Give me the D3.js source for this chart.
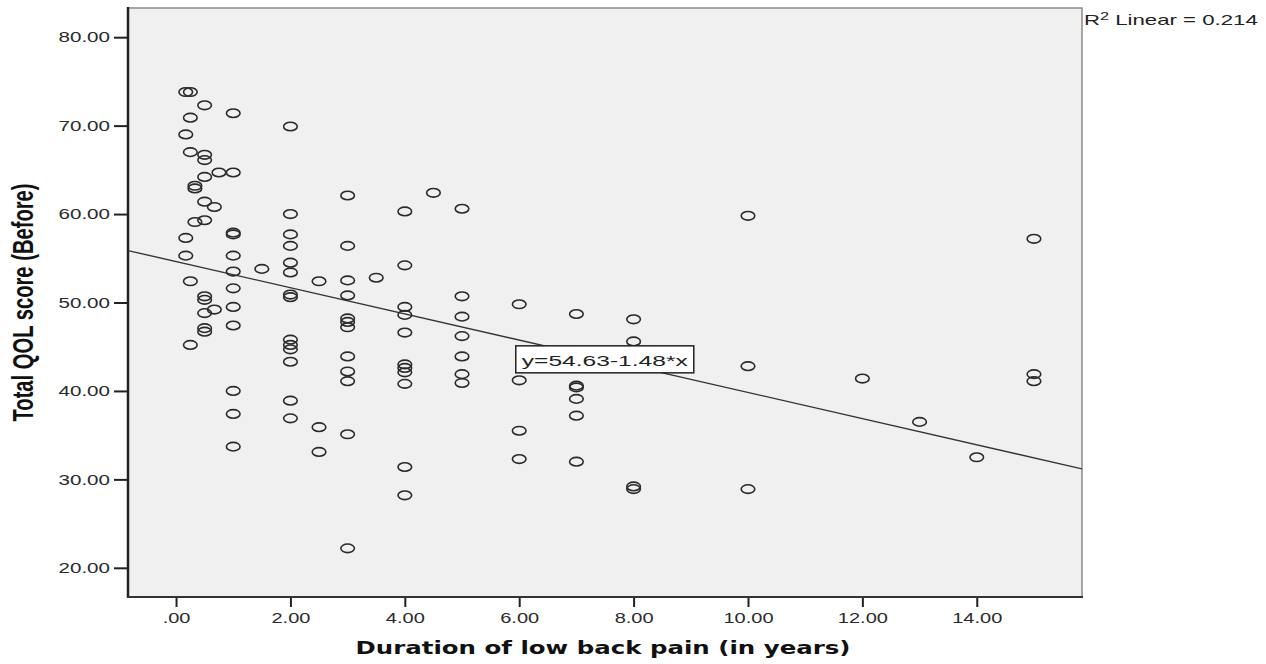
<!DOCTYPE html>
<html>
<head>
<meta charset="utf-8">
<script src="https://cdn.jsdelivr.net/npm/d3@7"></script>
<style>
body { margin: 0; background: #fff; }
svg { display: block; }
.tick text { font-family: 'Liberation Sans', Arial, sans-serif; font-size: 14.5px; fill: #2a2a2a; }
</style>
</head>
<body>
<svg id="chart" width="1266" height="664"></svg>
<script>
// one entry per column of points (years)
const durationYears = [0.17, 0.25, 0.33, 0.5, 0.67, 0.75, 1, 1.5, 2, 2.5, 3, 3.5, 4, 4.5, 5, 6, 7, 8, 10, 12, 13, 14, 15]
// total QOL score (before) of the patients in each column
const qolBefore = [
	[73.8, 69.0, 57.3, 55.3],
	[73.8, 70.9, 67.0, 52.4, 45.2],
	[63.2, 62.9, 59.1],
	[72.3, 66.7, 66.1, 64.2, 61.4, 59.3, 50.7, 50.3, 48.8, 47.1, 46.7],
	[60.8, 49.2],
	[64.7],
	[71.4, 64.7, 57.9, 57.7, 55.3, 53.5, 51.6, 49.5, 47.4, 40.0, 37.4, 33.7],
	[53.8],
	[69.9, 60.0, 57.7, 56.4, 54.5, 53.4, 50.9, 50.6, 45.8, 45.2, 44.7, 43.3, 38.9, 36.9],
	[52.4, 35.9, 33.1],
	[62.1, 56.4, 52.5, 50.8, 48.2, 47.8, 47.2, 43.9, 42.2, 41.1, 35.1, 22.2],
	[52.8],
	[60.3, 54.2, 49.5, 48.6, 46.6, 43.0, 42.6, 42.1, 40.8, 31.4, 28.2],
	[62.4],
	[60.6, 50.7, 48.4, 46.2, 43.9, 41.9, 40.9],
	[49.8, 41.2, 35.5, 32.3],
	[48.7, 40.6, 40.4, 39.1, 37.2, 32.0],
	[48.1, 45.6, 29.2, 28.9],
	[59.8, 42.8, 28.9],
	[41.4],
	[36.5],
	[32.5],
	[57.2, 41.9, 41.1]
]
const xTicks = [0, 2, 4, 6, 8, 10, 12, 14]
const yTicks = [20, 30, 40, 50, 60, 70, 80]
const fitIntercept = 54.63
const fitSlope = -1.48
const rSquared = 0.214

const points = []
durationYears.forEach((d, i) => qolBefore[i].forEach(v => points.push({ x: d, y: v })))

const plot = { left: 128, right: 1082, top: 8, bottom: 597 }
const x = d3.scaleLinear().domain([-0.84, 15.84]).range([plot.left, plot.right])
const y = d3.scaleLinear().domain([16.7, 83.3]).range([plot.bottom, plot.top])

const svg = d3.select('#chart')
const fmt = d => d3.format('.2f')(d).replace(/^0\./, '.')

// stretch text horizontally like the exported picture
const stretch = (sel, k) => sel.each(function () {
	const w = this.getComputedTextLength()
	d3.select(this).attr('textLength', w * k).attr('lengthAdjust', 'spacingAndGlyphs')
})

svg.append('defs').append('clipPath').attr('id', 'clip')
	.append('rect')
	.attr('x', plot.left).attr('y', plot.top)
	.attr('width', plot.right - plot.left).attr('height', plot.bottom - plot.top)

svg.append('rect')
	.attr('x', plot.left).attr('y', plot.top)
	.attr('width', plot.right - plot.left).attr('height', plot.bottom - plot.top)
	.style('fill', '#f0f0f0')
	.style('stroke', '#8a8a8a')
	.style('stroke-width', 1.5)

// axes
const yAxis = svg.append('g')
	.attr('transform', `translate(${plot.left},0)`)
	.call(d3.axisLeft(y).tickValues(yTicks).tickSize(14).tickPadding(4).tickFormat(fmt))
yAxis.select('.domain').remove()
yAxis.selectAll('.tick line').style('stroke', '#222').style('stroke-width', 2)
yAxis.selectAll('.tick text').call(stretch, 1.42)

const xAxis = svg.append('g')
	.attr('transform', `translate(0,${plot.bottom})`)
	.call(d3.axisBottom(x).tickValues(xTicks).tickSize(10).tickPadding(6).tickFormat(fmt))
xAxis.select('.domain').remove()
xAxis.selectAll('.tick line').style('stroke', '#222').style('stroke-width', 2)
xAxis.selectAll('.tick text').call(stretch, 1.38)

svg.append('line')
	.attr('x1', plot.left).attr('x2', plot.left)
	.attr('y1', plot.top - 1).attr('y2', plot.bottom + 1)
	.style('stroke', '#222').style('stroke-width', 2.5)
svg.append('line')
	.attr('x1', plot.left - 1).attr('x2', plot.right + 1)
	.attr('y1', plot.bottom).attr('y2', plot.bottom)
	.style('stroke', '#333').style('stroke-width', 2)

// fit line
const xd = x.domain()
svg.append('line')
	.attr('clip-path', 'url(#clip)')
	.attr('x1', x(xd[0])).attr('y1', y(fitIntercept + fitSlope * xd[0]))
	.attr('x2', x(xd[1])).attr('y2', y(fitIntercept + fitSlope * xd[1]))
	.style('stroke', '#333').style('stroke-width', 1.4)

// points
svg.append('g').selectAll('ellipse')
	.data(points)
	.join('ellipse')
	.attr('cx', d => x(d.x))
	.attr('cy', d => y(d.y))
	.attr('rx', 6.8)
	.attr('ry', 4.3)
	.style('fill', 'none')
	.style('stroke', '#2a2a2a')
	.style('stroke-width', 1.6)

// equation label
const eqX = x(5.94), eqY = y(45.1)
svg.append('rect')
	.attr('x', eqX).attr('y', eqY)
	.attr('width', 178).attr('height', 27)
	.style('fill', '#fff')
	.style('stroke', '#222')
	.style('stroke-width', 1.5)
svg.append('text')
	.attr('x', eqX + 6).attr('y', eqY + 20)
	.style('font-family', "'Liberation Sans', Arial, sans-serif")
	.style('font-size', '15.5px')
	.style('fill', '#222')
	.text(`y=${fitIntercept}${fitSlope}*x`)
	.attr('textLength', 166).attr('lengthAdjust', 'spacingAndGlyphs')

// R2 note
const r2 = svg.append('text')
	.attr('transform', `translate(${plot.right + 2},25) scale(1.48,1)`)
	.style('font-family', "'Liberation Sans', Arial, sans-serif")
	.style('font-size', '15px')
	.style('fill', '#222')
r2.append('tspan').text('R')
r2.append('tspan').attr('dy', -5).style('font-size', '11px').text('2')
r2.append('tspan').attr('dy', 5).text(` Linear = ${rSquared}`)

// axis titles
svg.append('text')
	.attr('x', (plot.left + plot.right) / 2 - 2).attr('y', 654)
	.attr('text-anchor', 'middle')
	.style('font-family', "'DejaVu Sans', Verdana, sans-serif")
	.style('font-weight', 'bold')
	.style('font-size', '17.5px')
	.style('fill', '#111')
	.text('Duration of low back pain (in years)')
	.attr('textLength', 495).attr('lengthAdjust', 'spacingAndGlyphs')

svg.append('text')
	.attr('transform', `translate(33,${(plot.top + plot.bottom) / 2}) rotate(-90) scale(1,1.38)`)
	.attr('text-anchor', 'middle')
	.style('font-family', "'Liberation Sans', Arial, sans-serif")
	.style('font-weight', 'bold')
	.style('font-size', '21px')
	.style('fill', '#111')
	.text('Total QOL score (Before)')
	.attr('textLength', 238).attr('lengthAdjust', 'spacingAndGlyphs')
</script>
</body>
</html>
